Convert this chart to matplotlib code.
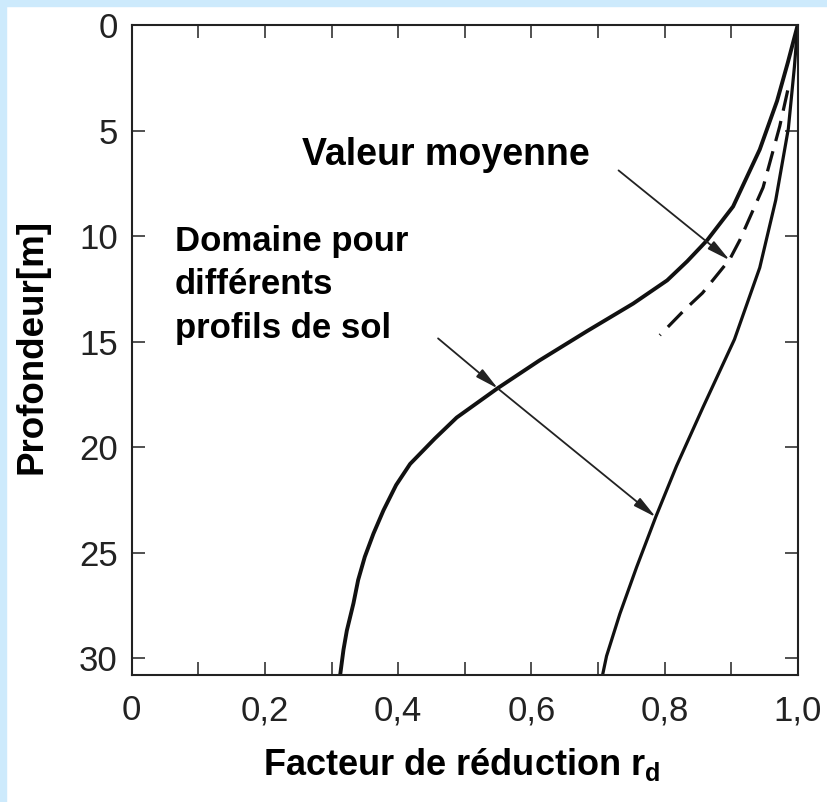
import matplotlib.pyplot as plt
from matplotlib.patches import Rectangle
from matplotlib.ticker import MultipleLocator, NullLocator

plt.rcParams['font.family'] = ['Liberation Sans', 'DejaVu Sans']
plt.rcParams['mathtext.fontset'] = 'custom'
plt.rcParams['mathtext.rm'] = 'Liberation Sans'
plt.rcParams['mathtext.bf'] = 'Liberation Sans:bold'

# valeurs : profondeur [m] et facteur de reduction rd
prof_gauche = [0, 1.8, 3.6, 5.9, 8.6, 10.2, 11.2, 12.1, 13.2, 14.5, 15.9, 17.2,
               17.9, 18.6, 19.6, 20.8, 21.8, 23.0, 24.1, 25.2, 26.3, 27.4,
               28.7, 29.6, 30.8]
rd_gauche = [1.0, 0.985, 0.969, 0.943, 0.903, 0.864, 0.834, 0.804, 0.753, 0.684,
             0.612, 0.550, 0.519, 0.488, 0.455, 0.418, 0.397, 0.378, 0.363,
             0.350, 0.340, 0.333, 0.323, 0.318, 0.313]

prof_droite = [0, 2.0, 4.9, 8.3, 11.5, 14.9, 18.1, 20.9, 23.3, 25.7, 27.9,
               29.9, 30.8]
rd_droite = [1.0, 0.995, 0.986, 0.967, 0.943, 0.905, 0.858, 0.818, 0.787,
             0.758, 0.733, 0.713, 0.707]

prof_moy = [3.1, 4.8, 7.7, 10.2, 11.1, 12.7, 13.5, 14.7]
rd_moy = [0.985, 0.973, 0.948, 0.913, 0.898, 0.857, 0.830, 0.793]

x_ticks = [0, 0.2, 0.4, 0.6, 0.8, 1.0]
x_labels = ['0', '0,2', '0,4', '0,6', '0,8', '1,0']
y_ticks = [0, 5, 10, 15, 20, 25, 30]

W, H = 827, 802
fig = plt.figure(figsize=(W / 100, H / 100), dpi=100)
fig.patch.set_facecolor('white')
bleu = '#cdeafc'
fig.patches.append(Rectangle((0, 0), 6 / W, 1, transform=fig.transFigure,
                             color=bleu, zorder=0))
fig.patches.append(Rectangle((0, 1 - 6 / H), 1, 6 / H, transform=fig.transFigure,
                             color=bleu, zorder=0))

ax = fig.add_axes([131.7 / W, 1 - 675 / H, 666 / W, 650 / H])
noir = '#111111'
ax.plot(rd_gauche, prof_gauche, color=noir, lw=2.8, solid_joinstyle='round')
ax.plot(rd_droite, prof_droite, color=noir, lw=2.3, solid_joinstyle='round')
ax.plot(rd_moy, prof_moy, color=noir, lw=2.3, dashes=(6.5, 3.3))

ax.set_xlim(0, 1.0)
ax.set_ylim(30.8, 0)
ax.set_xticks(x_ticks)
ax.set_xticklabels(x_labels)
ax.xaxis.set_minor_locator(MultipleLocator(0.1))
ax.set_yticks(y_ticks)
ax.yaxis.set_minor_locator(NullLocator())

for s in ax.spines.values():
    s.set_linewidth(1.5)
    s.set_color('#222222')
ax.tick_params(which='both', direction='in', length=9.5, width=1.1,
               color='#222222', top=True, right=True)
ax.tick_params(labelsize=25, labelcolor='#222222')
ax.tick_params(axis='x', pad=14)
ax.tick_params(axis='y', pad=10)

ax.set_ylabel('Profondeur[m]', fontsize=26.5, fontweight='bold')
ax.yaxis.set_label_coords(-0.1227, 0.506)
ax.text(0.496, -0.1538, r'Facteur de réduction $\mathbf{r}_\mathbf{d}$',
        transform=ax.transAxes, fontsize=26, fontweight='bold',
        ha='center', va='baseline')

ax.text(0.255, 6.65, 'Valeur moyenne', fontsize=27, fontweight='bold',
        ha='left', va='baseline')
ax.text(0.065, 14.85, 'Domaine pour\ndifférents\nprofils de sol', fontsize=25,
        fontweight='bold', ha='left', va='baseline', linespacing=1.42)

fleche = dict(arrowstyle='-|>,head_length=0.7,head_width=0.15', color='#222222',
              lw=1.3, shrinkA=0, shrinkB=0, mutation_scale=20)
ax.annotate('', xy=(0.898, 11.15), xytext=(0.731, 6.89), arrowprops=fleche)
ax.annotate('', xy=(0.550, 17.23), xytext=(0.460, 14.85), arrowprops=fleche)
ax.annotate('', xy=(0.787, 23.32), xytext=(0.550, 17.23), arrowprops=fleche)

fig.savefig('out.png', dpi=100)
